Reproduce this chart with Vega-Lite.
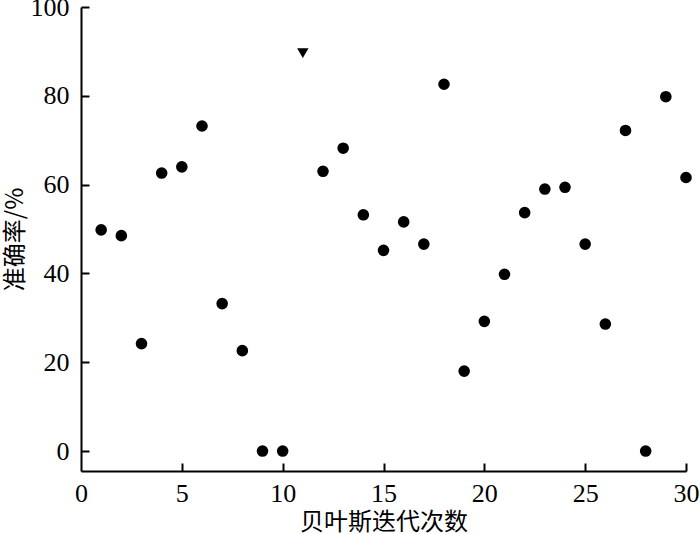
{
  "$schema": "https://vega.github.io/schema/vega-lite/v6.json",
  "width": 605,
  "height": 464,
  "autosize": {"type": "none"},
  "padding": {"left": 81, "top": 7, "right": 14, "bottom": 63},
  "background": "white",
  "config": {
    "view": {"stroke": null},
    "axis": {
      "domainColor": "black",
      "domainWidth": 2,
      "tickColor": "black",
      "tickWidth": 2,
      "grid": false,
      "labelFont": "Liberation Serif",
      "labelFontSize": 26,
      "labelColor": "black",
      "titleFont": "Noto Sans CJK SC",
      "titleFontSize": 24,
      "titleFontWeight": "normal",
      "titleColor": "black"
    }
  },
  "data": {
    "values": [
      {"x": 1, "y": 49.8, "type": "circle"},
      {"x": 2, "y": 48.5, "type": "circle"},
      {"x": 3, "y": 24.2, "type": "circle"},
      {"x": 4, "y": 62.6, "type": "circle"},
      {"x": 5, "y": 64.0, "type": "circle"},
      {"x": 6, "y": 73.2, "type": "circle"},
      {"x": 7, "y": 33.2, "type": "circle"},
      {"x": 8, "y": 22.6, "type": "circle"},
      {"x": 9, "y": 0, "type": "circle"},
      {"x": 10, "y": 0, "type": "circle"},
      {"x": 11, "y": 89.6, "type": "triangle"},
      {"x": 12, "y": 63.0, "type": "circle"},
      {"x": 13, "y": 68.2, "type": "circle"},
      {"x": 14, "y": 53.2, "type": "circle"},
      {"x": 15, "y": 45.2, "type": "circle"},
      {"x": 16, "y": 51.6, "type": "circle"},
      {"x": 17, "y": 46.6, "type": "circle"},
      {"x": 18, "y": 82.6, "type": "circle"},
      {"x": 19, "y": 18.0, "type": "circle"},
      {"x": 20, "y": 29.2, "type": "circle"},
      {"x": 21, "y": 39.8, "type": "circle"},
      {"x": 22, "y": 53.7, "type": "circle"},
      {"x": 23, "y": 59.0, "type": "circle"},
      {"x": 24, "y": 59.4, "type": "circle"},
      {"x": 25, "y": 46.6, "type": "circle"},
      {"x": 26, "y": 28.6, "type": "circle"},
      {"x": 27, "y": 72.2, "type": "circle"},
      {"x": 28, "y": 0, "type": "circle"},
      {"x": 29, "y": 79.8, "type": "circle"},
      {"x": 30, "y": 61.6, "type": "circle"}
    ]
  },
  "resolve": {"axis": {"x": "independent", "y": "independent"}},
  "layer": [
    {
      "mark": {"type": "point", "filled": true, "opacity": 1, "color": "black"},
      "encoding": {
        "x": {
          "field": "x", "type": "quantitative",
          "scale": {"domain": [0, 30], "nice": false, "zero": false},
          "axis": {"values": [0, 5, 10, 15, 20, 25, 30], "title": "贝叶斯迭代次数", "ticks": false, "labelPadding": 9, "titlePadding": 4, "labelFlush": false}
        },
        "y": {
          "field": "y", "type": "quantitative",
          "scale": {"domain": [-4.5, 100], "nice": false, "zero": false},
          "axis": {"values": [0, 20, 40, 60, 80, 100], "title": "准确率/%", "ticks": false, "labelPadding": 12, "titlePadding": 3, "labelFlush": false}
        },
        "shape": {
          "field": "type", "type": "nominal",
          "scale": {"domain": ["circle", "triangle"], "range": ["circle", "triangle-down"]},
          "legend": null
        },
        "size": {
          "field": "type", "type": "nominal",
          "scale": {"domain": ["circle", "triangle"], "range": [135, 130]},
          "legend": null
        }
      }
    },
    {
      "mark": {"type": "point", "opacity": 0},
      "encoding": {
        "x": {
          "field": "x", "type": "quantitative",
          "axis": {"values": [5, 10, 15, 20, 25, 30], "title": null, "labels": false, "domain": false, "ticks": true, "tickSize": 8, "offset": -464}
        },
        "y": {
          "field": "y", "type": "quantitative",
          "axis": {"values": [0, 20, 40, 60, 80, 100], "title": null, "labels": false, "domain": false, "ticks": true, "tickSize": 8, "offset": -605}
        }
      }
    }
  ]
}
